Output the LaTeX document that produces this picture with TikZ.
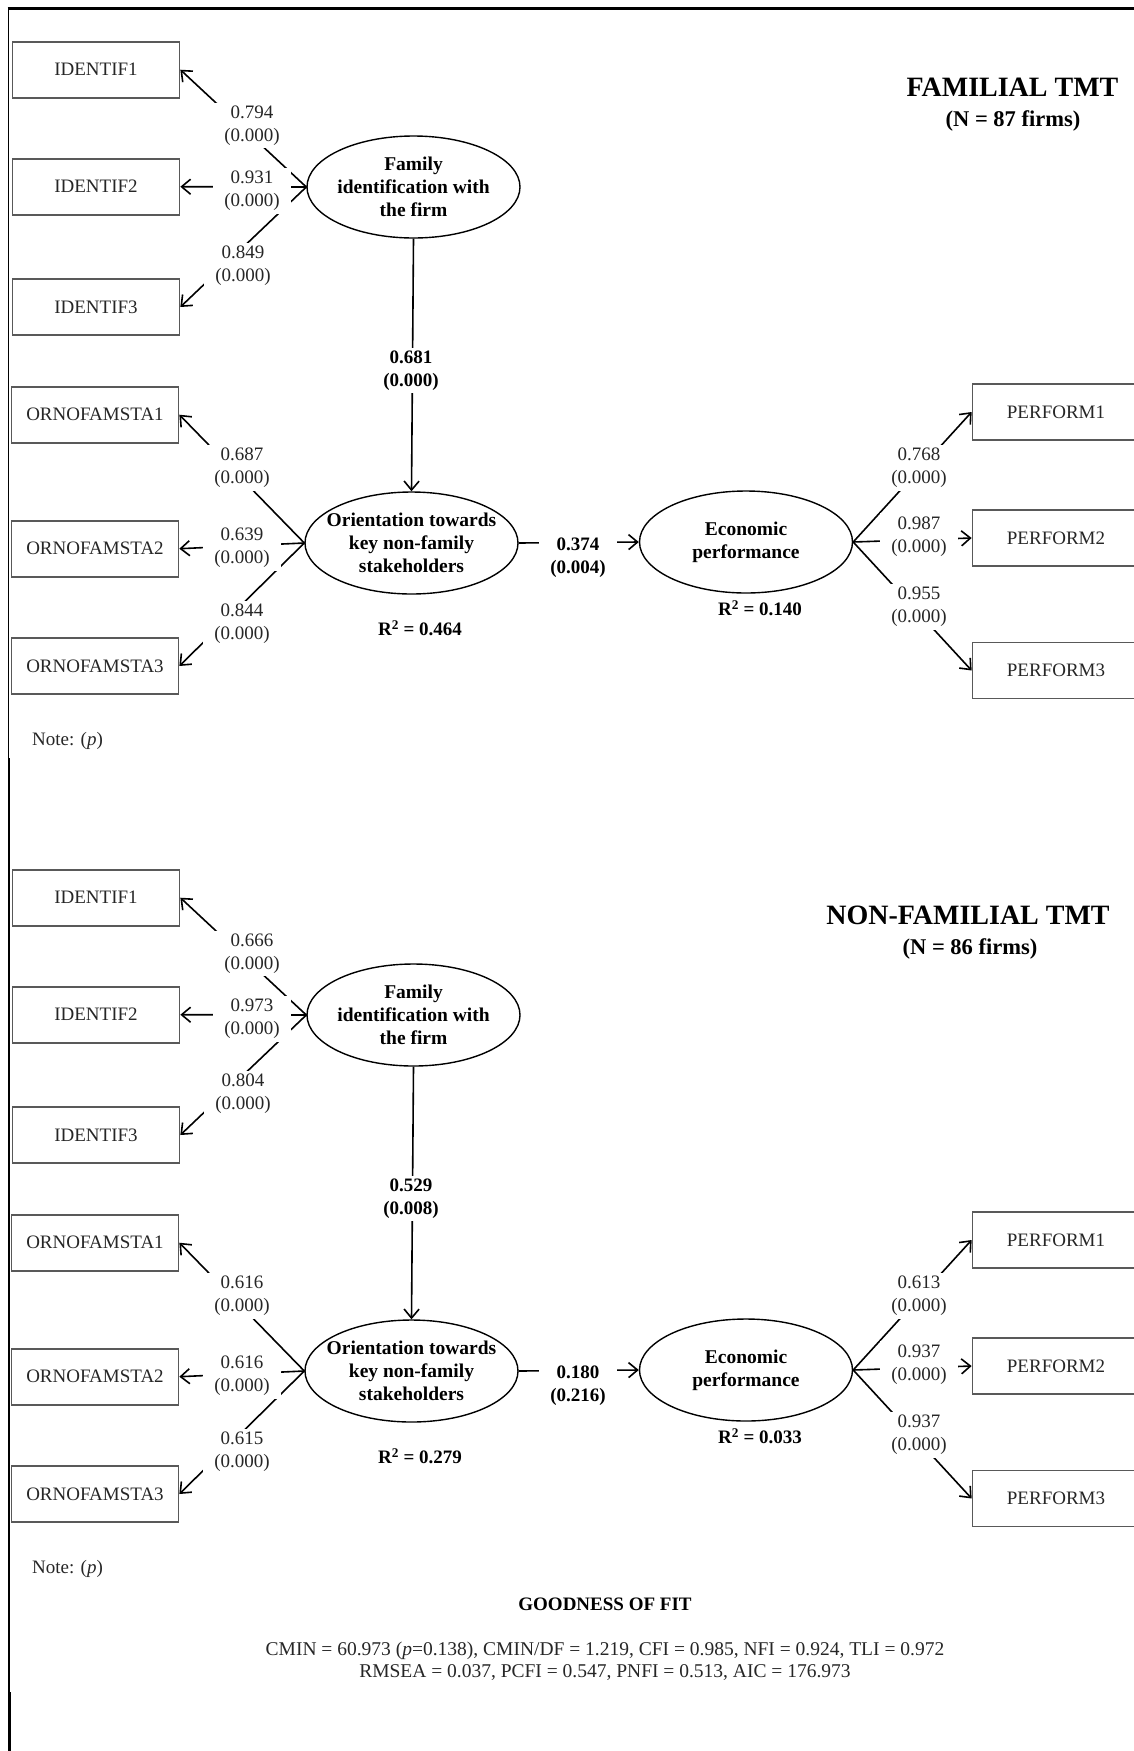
\documentclass[tikz,border=0pt]{standalone}
\usepackage{fontspec}
\setmainfont{Liberation Serif}
\usetikzlibrary{shapes.geometric,arrows.meta}
\begin{document}
\begin{tikzpicture}[x=1pt,y=-1pt,line width=1.6pt,
  obs/.style={draw=black!65,line width=1.7pt,minimum width=167pt,minimum height=56pt,inner sep=0pt,text=black!85,font=\fontsize{19}{23}\selectfont},
  lat/.style={draw,ellipse,line width=1.4pt,minimum width=213pt,minimum height=102pt,inner xsep=-14pt,inner ysep=0pt,align=center,font=\fontsize{19.5}{23}\selectfont\bfseries},
  coef/.style={fill=white,inner xsep=11pt,inner ysep=3pt,align=center,text=black!85,font=\fontsize{19}{23}\selectfont},
  bcoef/.style={coef,text=black,font=\fontsize{19}{23}\selectfont\bfseries},
  arr/.style={-{Straight Barb[length=9pt,width=15pt]}},
  ttl/.style={font=\fontsize{28}{30}\selectfont\bfseries},
  subttl/.style={font=\fontsize{22.5}{26}\selectfont\bfseries},
  rsq/.style={font=\fontsize{19}{23}\selectfont\bfseries},
  note/.style={anchor=west,text=black!85,font=\fontsize{19}{23}\selectfont}]
\useasboundingbox (0,0) rectangle (1134,1751);
\draw[line width=2.7pt] (7.5,8.7) -- (1134,8.7);
\draw[line width=1.5pt] (8.3,8) -- (8.3,758);
\draw[line width=2.2pt] (8.6,758) -- (8.6,1692);
\draw[line width=3pt] (9,1692) -- (9,1751);

\foreach \p/\dy in {F/0pt,N/828pt}{
\begin{scope}[yshift=-\dy]
  \node[obs] (id\p1) at (96,69.7) {IDENTIF1};
  \node[obs] (id\p2) at (96,186.7) {IDENTIF2};
  \node[obs] (id\p3) at (96,307) {IDENTIF3};
  \node[obs] (or\p1) at (95,414.7) {ORNOFAMSTA1};
  \node[obs] (or\p2) at (95,548.7) {ORNOFAMSTA2};
  \node[obs] (or\p3) at (95,666) {ORNOFAMSTA3};
  \node[obs] (pe\p1) at (1056,412) {PERFORM1};
  \node[obs] (pe\p2) at (1056,538) {PERFORM2};
  \node[obs] (pe\p3) at (1056,670.5) {PERFORM3};
  \node[lat] (fam\p) at (413.5,187) {Family\\identification with\\the firm};
  \node[lat] (ori\p) at (411.5,543) {Orientation towards\\key non-family\\stakeholders};
  \node[lat] (eco\p) at (746,542) {Economic\\performance};
  \node[note] (nt\p) at (28,741) {Note: (\textit{p})};
  \foreach \i in {1,2,3}{
    \draw[arr] (fam\p.west) -- (id\p\i.east);
    \draw[arr] (ori\p.west) -- (or\p\i.east);
    \draw[arr] (eco\p.east) -- (pe\p\i.west);}
  \draw[arr] (fam\p.south) -- (ori\p.north);
  \draw[arr] (ori\p.east) -- (eco\p.west);
\end{scope}}

\node[ttl] (tF) at (1012.5,87.5) {FAMILIAL TMT};
\node[subttl] (sF) at (1013,121) {(N = 87 firms)};
\node[coef] (cF1) at (252,125.5) {0.794\\(0.000)};
\node[coef] (cF2) at (252,191) {0.931\\(0.000)};
\node[coef] (cF3) at (243,266) {0.849\\(0.000)};
\node[bcoef] (cF4) at (411,370.5) {0.681\\(0.000)};
\node[coef] (cF5) at (242,468) {0.687\\(0.000)};
\node[coef] (cF6) at (242,548) {0.639\\(0.000)};
\node[coef] (cF7) at (242,624) {0.844\\(0.000)};
\node[bcoef] (cF8) at (578,558) {0.374\\(0.004)};
\node[coef] (cF9) at (919,468) {0.768\\(0.000)};
\node[coef] (cF10) at (919,536.3) {0.987\\(0.000)};
\node[coef] (cF11) at (919,606.7) {0.955\\(0.000)};
\node[rsq] (rF1) at (420,628) {R\textsuperscript{2} = 0.464};
\node[rsq] (rF2) at (760,608) {R\textsuperscript{2} = 0.140};

\begin{scope}[yshift=-828pt]
\node[ttl] (tN) at (968,87) {NON-FAMILIAL TMT};
\node[subttl] (sN) at (970,120.5) {(N = 86 firms)};
\node[coef] (cN1) at (252,125.5) {0.666\\(0.000)};
\node[coef] (cN2) at (252,191) {0.973\\(0.000)};
\node[coef] (cN3) at (243,266) {0.804\\(0.000)};
\node[bcoef] (cN4) at (411,370.5) {0.529\\(0.008)};
\node[coef] (cN5) at (242,468) {0.616\\(0.000)};
\node[coef] (cN6) at (242,548) {0.616\\(0.000)};
\node[coef] (cN7) at (242,624) {0.615\\(0.000)};
\node[bcoef] (cN8) at (578,558) {0.180\\(0.216)};
\node[coef] (cN9) at (919,468) {0.613\\(0.000)};
\node[coef] (cN10) at (919,536.3) {0.937\\(0.000)};
\node[coef] (cN11) at (919,606.7) {0.937\\(0.000)};
\node[rsq] (rN1) at (420,628) {R\textsuperscript{2} = 0.279};
\node[rsq] (rN2) at (760,608) {R\textsuperscript{2} = 0.033};
\end{scope}

\node[font=\fontsize{19}{22}\selectfont\bfseries] (gof) at (605,1604) {GOODNESS OF FIT};
\node[align=center,text=black!85,font=\fontsize{19.5}{22}\selectfont] (fit) at (605,1661) {CMIN = 60.973 (\textit{p}=0.138), CMIN/DF = 1.219, CFI = 0.985, NFI = 0.924, TLI = 0.972\\RMSEA = 0.037, PCFI = 0.547, PNFI = 0.513, AIC = 176.973};
\end{tikzpicture}
\end{document}
